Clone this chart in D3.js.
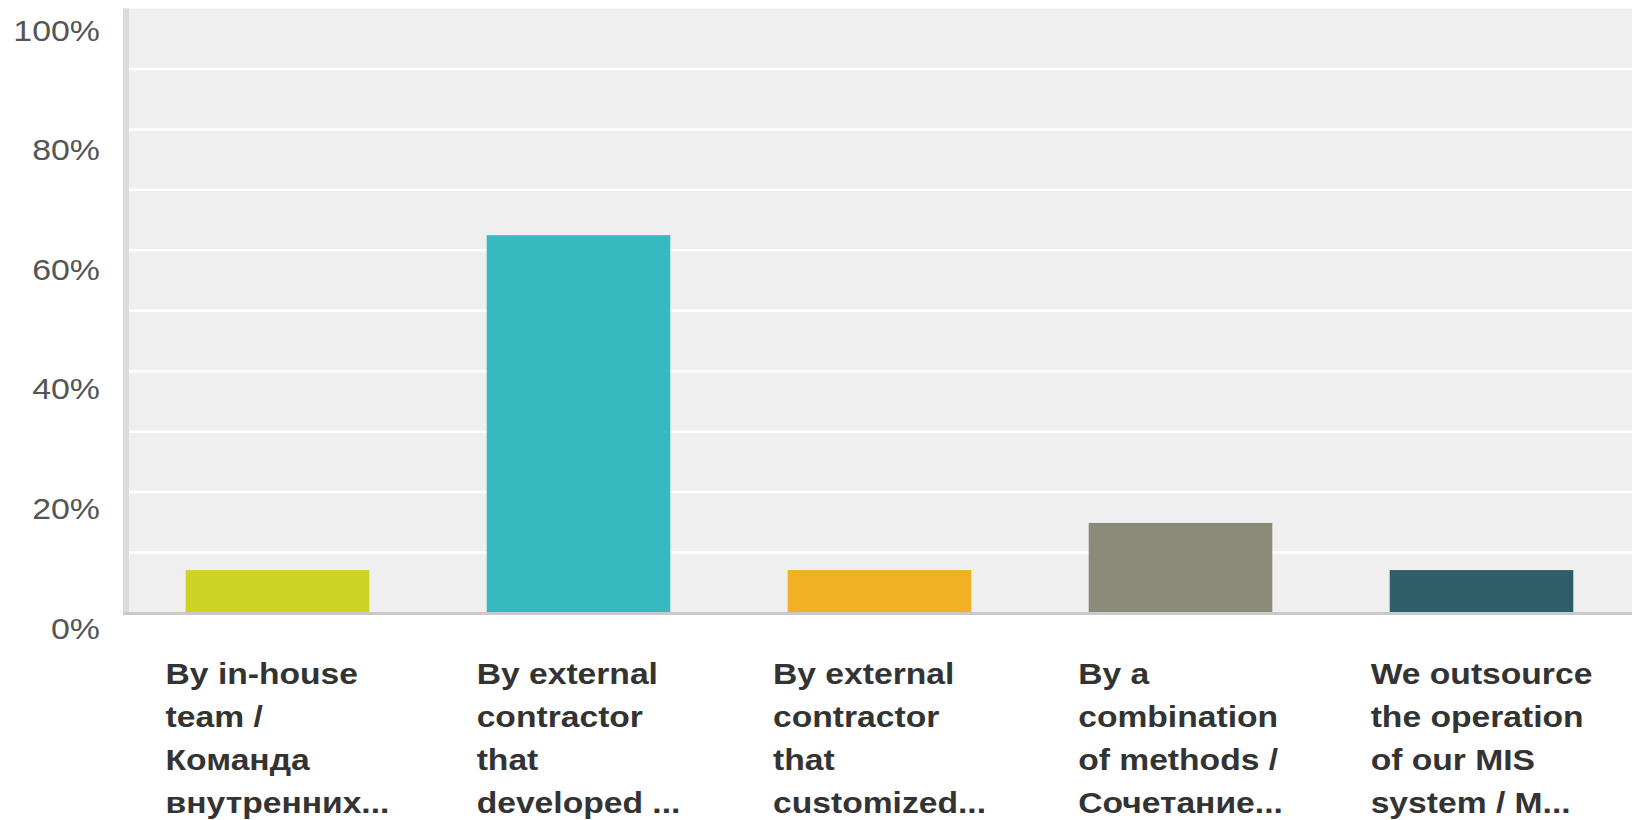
<!DOCTYPE html>
<html>
<head>
<meta charset="utf-8">
<script src="https://cdn.jsdelivr.net/npm/d3@7"></script>
<style>
  body { margin: 0; background: #fff; }
  svg { display: block; }
  text { font-family: "Liberation Sans", Arial, sans-serif; }
</style>
</head>
<body>
<div id="chart"></div>
<script>
// data
const categories = [
  ["By in-house", "team /", "Команда", "внутренних..."],
  ["By external", "contractor", "that", "developed ..."],
  ["By external", "contractor", "that", "customized..."],
  ["By a", "combination", "of methods /", "Сочетание..."],
  ["We outsource", "the operation", "of our MIS", "system / M..."]
];
const values = [7.1, 62.5, 7.1, 14.9, 7.1];
const colors = ["#cfd424", "#36babf", "#f2b124", "#8a8b79", "#2f5e6b"];
const tickValues = [0, 20, 40, 60, 80, 100];
const gridValues = [10, 20, 30, 40, 50, 60, 70, 80, 90];

const width = 1632, height = 820;
const stretch = 1.13;      // axis text in the original is a bit wide
const labelStretch = 1.16; // category text even more so

const svg = d3.select("#chart").append("svg")
  .attr("width", width)
  .attr("height", height);

const x = d3.scaleBand()
  .domain(d3.range(values.length))
  .range([127, 1632])
  .paddingInner(0.39)
  .paddingOuter(0.195);

const y = d3.scaleLinear().domain([0, 100]).range([613, 8.5]);
// tick labels sit a little below their gridlines in the original
const yLabel = d3.scaleLinear().domain([0, 100]).range([638, 40]);

// plot background
svg.append("rect")
  .attr("x", 123).attr("y", y(100))
  .attr("width", width - 123).attr("height", y(0) - y(100))
  .attr("fill", "#efefef");

// gridlines
svg.append("g").selectAll("line")
  .data(gridValues)
  .enter().append("line")
  .attr("x1", 129).attr("x2", width)
  .attr("y1", d => y(d)).attr("y2", d => y(d))
  .attr("stroke", "#fff")
  .attr("stroke-width", 2.5);

// left border
svg.append("rect")
  .attr("x", 123).attr("y", y(100))
  .attr("width", 6).attr("height", y(0) - y(100))
  .attr("fill", "#dcdcdc");

// bars
svg.append("g").selectAll("rect")
  .data(values)
  .enter().append("rect")
  .attr("x", (d, i) => x(i))
  .attr("y", d => y(d))
  .attr("width", x.bandwidth())
  .attr("height", d => y(0) - y(d))
  .attr("fill", (d, i) => colors[i]);

// baseline
svg.append("line")
  .attr("x1", 123).attr("x2", width)
  .attr("y1", y(0) + 0.5).attr("y2", y(0) + 0.5)
  .attr("stroke", "#c9c9c9")
  .attr("stroke-width", 3);

// y axis labels
const yAxis = svg.append("g")
  .attr("transform", "translate(100,0)")
  .call(d3.axisLeft(yLabel).tickValues(tickValues).tickSize(0).tickPadding(0)
    .tickFormat(d => d + "%"));
yAxis.select(".domain").remove();
yAxis.selectAll("text")
  .attr("x", 0)
  .attr("dy", 0)
  .attr("transform", `scale(${stretch},1)`)
  .attr("font-size", 30)
  .attr("fill", "#555");

// category labels: left-aligned block centred under each bar
const lineH = 43;
const labels = svg.append("g").selectAll("g")
  .data(categories)
  .enter().append("g");

labels.each(function(lines, i) {
  const g = d3.select(this);
  const t = g.append("text")
    .attr("font-size", 29)
    .attr("font-weight", "bold")
    .attr("fill", "#333")
    .attr("transform", `scale(${labelStretch},1)`);
  t.selectAll("tspan")
    .data(lines)
    .enter().append("tspan")
    .attr("x", 0)
    .attr("y", (d, j) => 684 + j * lineH)
    .text(d => d);
  const w = t.node().getBBox().width * labelStretch;
  g.attr("transform", `translate(${x(i) + x.bandwidth() / 2 - w / 2},0)`);
});
</script>
</body>
</html>
